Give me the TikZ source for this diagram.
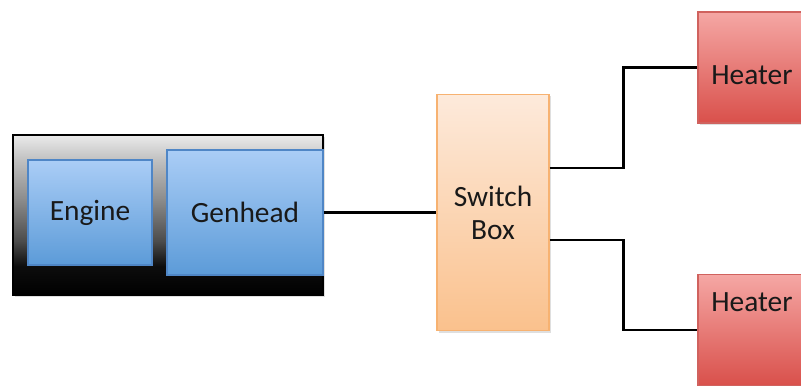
\documentclass[tikz,border=0pt]{standalone}
\usepackage{fontspec}
\setmainfont{Carlito}
\usetikzlibrary{shadows}

\definecolor{bluetop}{HTML}{AACDF6}
\definecolor{bluebot}{HTML}{5C9BD8}
\definecolor{blueedge}{HTML}{4F86C6}
\definecolor{orangetop}{HTML}{FDEADB}
\definecolor{orangebot}{HTML}{FAC18D}
\definecolor{orangeedge}{HTML}{F7B271}
\definecolor{redtop}{HTML}{F5A7A4}
\definecolor{redbot}{HTML}{D9504B}
\definecolor{rededge}{HTML}{D0625E}

% dark casing of the generator set
\pgfdeclareverticalshading{casing}{100bp}{
  color(0bp)=(black); color(25bp)=(black); color(34bp)=(black!95);
  color(42bp)=(black!70); color(55bp)=(black!45); color(67bp)=(black!25);
  color(75bp)=(black!8); color(100bp)=(black!8)}

\begin{document}
\begin{tikzpicture}[x=0.5pt, y=0.5pt,
  every node/.style={font=\fontsize{14.7}{16.5}\selectfont, text=black!90},
  unit/.style={draw=blueedge, line width=0.6pt, top color=bluetop, bottom color=bluebot, inner sep=0pt},
  heater/.style={draw=rededge, line width=0.6pt, top color=redtop, bottom color=redbot, inner sep=0pt,
    minimum width=101pt, minimum height=55.5pt, drop shadow={opacity=0.25, shadow xshift=1pt, shadow yshift=-1pt}},
  wire/.style={line width=1.3pt, black}]

  \path[use as bounding box, clip] (0,0) rectangle (801,385);

  % Genset
  \node[draw=black, line width=0.6pt, shading=casing, minimum width=155pt, minimum height=80pt,
    drop shadow={opacity=0.25, shadow xshift=1pt, shadow yshift=-1pt}] (genset) at (168,170) {};
  \node[unit, minimum width=62pt, minimum height=52.5pt] (engine) at (90,172.5) {Engine};
  \node[unit, minimum width=78pt, minimum height=62.5pt] (genhead) at (245,172.5) {Genhead};

  % Switch Box
  \node[draw=orangeedge, line width=0.6pt, top color=orangetop, bottom color=orangebot,
    minimum width=56pt, minimum height=118pt, align=center,
    drop shadow={opacity=0.25, shadow xshift=1pt, shadow yshift=-1pt}] (switch) at (493,172.5) {Switch\\Box};

  % Heaters
  \node[heater] (heaterA) at (799,317.5) {};
  \node[anchor=west, inner sep=0pt] (heaterAtxt) at (711,310) {Heater};
  \node[heater] (heaterB) at (799,55) {};
  \node[anchor=west, inner sep=0pt] (heaterBtxt) at (711,83) {Heater};

  % Wires
  \draw[wire] (genhead.east) -- (switch.west);
  \draw[wire] ([yshift=22.25pt]switch.east) -- ++(74,0) |- (heaterA.west);
  \draw[wire] ([yshift=-13.75pt]switch.east) -- ++(74,0) |- (heaterB.west);
\end{tikzpicture}
\end{document}
